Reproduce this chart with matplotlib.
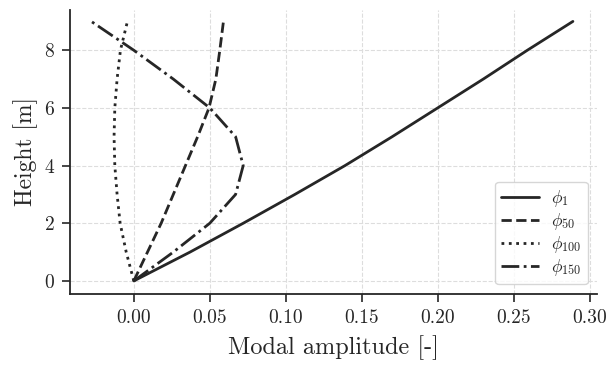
import matplotlib
matplotlib.use("Agg")
import matplotlib.pyplot as plt
import seaborn as sns

# mode shapes, nodes every metre
heights = [0, 1, 2, 3, 4, 5, 6, 7, 8, 9]
phi_1 = [0.0, 0.037, 0.072, 0.106, 0.139, 0.170, 0.200, 0.230, 0.259, 0.289]
phi_50 = [0.0, 0.009, 0.018, 0.026, 0.034, 0.042, 0.0495, 0.054, 0.0566, 0.059]
phi_100 = [0.0, -0.005, -0.009, -0.011, -0.0125, -0.013, -0.0125, -0.011, -0.0088, -0.0042]
phi_150 = [0.0, 0.026, 0.050, 0.067, 0.072, 0.067, 0.050, 0.026, 0.0, -0.028]

labels = [r"$\phi_{1}$", r"$\phi_{50}$", r"$\phi_{100}$", r"$\phi_{150}$"]
styles = ["-", "--", ":", "-."]

sns.set_style("ticks", {"axes.grid": True, "grid.linestyle": "--"})
plt.rcParams["font.family"] = "serif"
plt.rcParams["font.serif"] = ["cmr10"]
plt.rcParams["mathtext.fontset"] = "cm"
plt.rcParams["axes.formatter.use_mathtext"] = True

fig = plt.figure(figsize=(6.06, 3.66), dpi=100)
ax = fig.add_axes([0.1155, 0.197, 0.87, 0.776])

for vals, lab, ls in zip([phi_1, phi_50, phi_100, phi_150], labels, styles):
    ax.plot(vals, heights, ls, color="#262626", lw=2.0, label=lab)

ax.set_xlim(-0.042, 0.305)
ax.set_ylim(-0.45, 9.4)
ax.set_xticks([0.0, 0.05, 0.10, 0.15, 0.20, 0.25, 0.30])
ax.set_yticks([0, 2, 4, 6, 8])
ax.xaxis.set_major_formatter(matplotlib.ticker.FormatStrFormatter("%.2f"))
ax.grid(True, linestyle="--", color="#dddddd", lw=0.8)
ax.tick_params(labelsize=14, length=6, width=1.2, pad=5, colors="#262626")
for s in ["left", "bottom"]:
    ax.spines[s].set_linewidth(1.3)
    ax.spines[s].set_color("#262626")
sns.despine(ax=ax)

ax.set_xlabel("Modal amplitude [-]", fontsize=17.5, color="#262626", labelpad=6)
ax.set_ylabel("Height [m]", fontsize=17, color="#262626")
ax.legend(loc="lower right", fontsize=12.5, handlelength=2.2, labelspacing=0.12,
          borderpad=0.35, handletextpad=0.7, framealpha=0.8, borderaxespad=0.55)

fig.savefig("out.png", dpi=100)
